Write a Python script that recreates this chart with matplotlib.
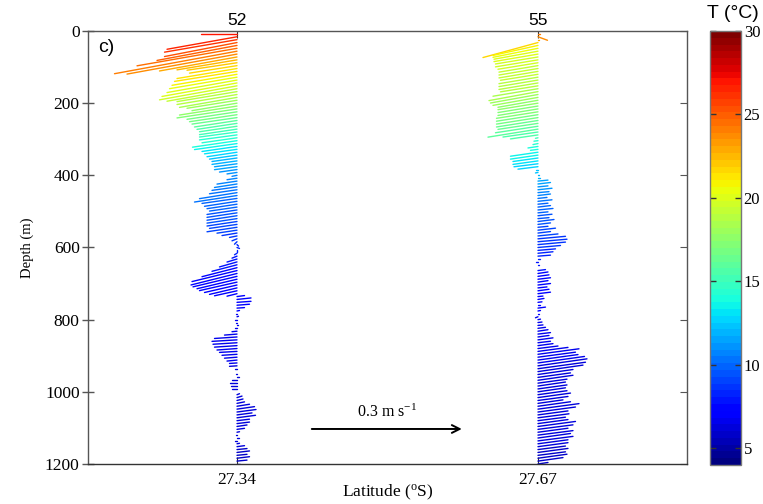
import numpy as np
import matplotlib.pyplot as plt
from matplotlib.collections import LineCollection
from matplotlib.colors import Normalize

# ADCP bins: 8 m, from 8 to 1200 m (six rows of 25 bins each below)
depth = np.arange(8, 1208, 8)

# station latitudes (deg S) and station numbers
lat_st = [27.34, 27.67]
st_names = ['52', '55']

# station 52: east (u) and north (v) velocity in cm/s, temperature in deg C
u52 = [-7.3, -14, -14.5, -14.5, -16, -20, -24.5, -22, -15.5, -12, -10, -9.5, -12, -12.5, -13, -13.5, -14, -15, -15.5, -14, -12, -12, -11.5, -10, -9,
       -11.5, -12, -10, -9.5, -9, -8.5, -8, -7.5, -7.5, -7.5, -7.5, -7, -8.9, -8.5, -7, -6.5, -6, -5.5, -5, -5, -4.5, -4.5, -3.5, -2, -1,
       -2, -4, -4.5, -5, -5.5, -7.5, -8.5, -7, -6.5, -6, -5.5, -6, -6, -6, -6, -6, -5.5, -6, -4, -3, -1.5, -1, -0.5, 0.3, 0.5,
       0, -0.5, -1, -2, -3.5, -5, -7, -9, -9.2, -8.8, -8, -7.5, -6.5, -5.5, -4.5, -2, 1.5, 2.8, 2.8, 2.5, 1.5, 0.5, -0.3, 0.3, -0.5,
       -0.3, 0.2, -0.5, -1, -2.5, -4.5, -5, -4.8, -4.5, -4, -3.5, -3, -2.5, -2, -1.5, -1.5, -0.5, 0, -0.3, 0.3, -1, -1.5, -1.2, -1, 0,
       0.5, 1, 1.2, 1.5, 2.5, 3.5, 3.8, 3, 3.7, 2.5, 2.5, 2, 1.5, 0.5, -0.3, 0.3, -0.5, 0.5, 1.5, 2, 2.5, 2, 2.5, 2, 0.5]
v52 = [0, -2.5, -2.5, -2.8, -3, -3.5, -4.5, -4, -2.8, -2, -1.5, -1.5, -2, -2, -2.2, -2.3, -2.5, -2.7, -2.8, -2.5, -2, -2, -2, -1.6, -1.5,
       -1.8, -1.8, -1.5, -1.4, -1.3, -1.3, -1.2, -1.1, -1.1, -1.0, -1.0, -1.0, -1.3, -1.2, -1.0, -0.9, -0.9, -0.8, -0.7, -0.7, -0.6, -0.6, -0.5, -0.3, -0.2,
       -0.3, -0.6, -0.7, -0.7, -0.8, -1.2, -1.3, -1.0, -1.0, -0.9, -0.8, -0.9, -0.9, -0.9, -0.9, -0.9, -0.8, -0.9, -0.6, -0.5, -0.3, -0.4, -0.5, -0.3, -0.2,
       -0.3, -0.3, -0.4, -0.6, -1.0, -1.3, -1.8, -2.2, -2.3, -2.1, -1.9, -1.7, -1.5, -1.3, -1.0, -0.5, 0.2, 0.3, 0.2, 0.2, 0.1, 0.1, 0, 0.1, 0,
       0, 0, 0, -0.1, -0.2, -0.3, -0.3, -0.3, -0.3, -0.3, -0.2, -0.2, -0.2, -0.2, -0.1, -0.1, 0, 0, 0, 0, 0, 0, 0, 0, 0,
       0.2, 0.3, 0.3, 0.3, 0.4, 0.5, 0.5, 0.4, 0.5, 0.3, 0.3, 0.3, 0.2, 0.1, 0, 0, 0, 0.1, 0.2, 0.2, 0.3, 0.2, 0.3, 0.2, 0]
t52 = [27, 26.5, 26, 25.5, 25, 24.5, 24, 23.5, 23, 22.5, 22, 21.7, 21.4, 21.1, 20.8, 20.5, 20.2, 19.9, 19.6, 19.3, 19, 18.7, 18.4, 18.1, 17.8,
       17.5, 17.2, 16.9, 16.6, 16.3, 16, 15.7, 15.4, 15.1, 14.8, 14.5, 14.2, 13.9, 13.6, 13.3, 13.0, 12.7, 12.4, 12.1, 11.8, 11.6, 11.4, 11.2, 11.0, 10.8,
       10.7, 10.6, 10.5, 10.4, 10.3, 10.2, 10.1, 10.0, 9.9, 9.8, 9.7, 9.6, 9.5, 9.4, 9.3, 9.2, 9.1, 9.0, 8.9, 8.8, 8.7, 8.6, 8.5, 8.4, 8.3,
       8.2, 8.1, 8.0, 7.9, 7.8, 7.7, 7.6, 7.5, 7.4, 7.4, 7.3, 7.3, 7.2, 7.2, 7.1, 7.1, 7.0, 7.0, 7.0, 6.9, 6.9, 6.9, 6.8, 6.8, 6.8,
       6.8, 6.8, 6.7, 6.7, 6.7, 6.7, 6.6, 6.6, 6.6, 6.6, 6.5, 6.5, 6.5, 6.5, 6.5, 6.4, 6.4, 6.4, 6.4, 6.4, 6.3, 6.3, 6.3, 6.3, 6.3,
       6.3, 6.3, 6.3, 6.2, 6.2, 6.2, 6.2, 6.2, 6.2, 6.2, 6.2, 6.1, 6.1, 6.1, 6.1, 6.1, 6.1, 6.1, 6.1, 6.0, 6.0, 6.0, 6.0, 6.0, 6.0]

# station 55
u55 = [0.5, 1.9, 0.3, -11, -9, -9, -8.8, -8.8, -8.5, -8.5, -8, -7.8, -7.8, -7.8, -7.5, -7.8, -7.8, -7.8, -7.5, -9, -9.8, -9.5, -9, -8, -8,
       -8, -8, -8.3, -8.3, -8.3, -8.3, -8, -8.5, -10, -7, -5.5, -0.5, -0.8, -1, -2, -1.5, -5.5, -5.5, -5, -5, -4.8, -4, -0.3, -0.5, 0.3,
       0.5, 2, 2.5, 2, 2.8, 2.2, 2.5, 1.8, 2.8, 2, 2.5, 3, 2, 2.8, 2.2, 3.2, 2.5, 2, 3.5, 2.5, 4, 5.5, 5.8, 5.5, 4.5,
       3.5, 3, 2.5, 0.5, -0.3, 0.3, 0, 1.5, 2, 2.2, 2.5, 2, 2.5, 1.8, 2.2, 2.5, 1, 1.2, 0.8, 0.5, 1.5, 0.5, 0.3, -0.5, 0.5,
       0.8, 1, 1.5, 2, 2.5, 2.2, 3, 2.5, 3, 4, 6, 8.2, 7.5, 8, 9.3, 9.8, 9.5, 9, 7, 6.5, 7, 5.8, 5.5, 5.8, 5.5,
       5.8, 6.5, 6, 5, 6.5, 8.2, 7.5, 6, 6.2, 5.5, 6, 7.5, 7, 6, 7, 6.5, 7, 6, 6, 5.5, 6, 5.5, 5.8, 5, 2]
v55 = [0, -0.7, 0, -3, -2, -1.8, -1.6, -1.5, -1.4, -1.4, -1.3, -1.3, -1.3, -1.3, -1.2, -1.3, -1.3, -1.3, -1.2, -1.5, -1.8, -1.7, -1.6, -1.4, -1.3,
       -1.3, -1.3, -1.3, -1.3, -1.3, -1.3, -1.2, -1.3, -1.6, -1.0, -0.8, -0.1, -0.1, -0.2, -0.3, -0.2, -0.8, -0.8, -0.7, -0.7, -0.6, -0.5, 0, -0.1, 0,
       0, 0.2, 0.3, 0.2, 0.3, 0.2, 0.3, 0.2, 0.3, 0.2, 0.3, 0.3, 0.2, 0.3, 0.2, 0.4, 0.3, 0.2, 0.4, 0.3, 0.4, 0.5, 0.5, 0.5, 0.4,
       0.3, 0.3, 0.2, 0, 0, 0, 0, 0.2, 0.3, 0.3, 0.3, 0.3, 0.3, 0.2, 0.3, 0.3, 0.1, 0.2, 0.1, 0, 0.2, 0.1, 0, -0.2, 0.1,
       0.1, 0.1, 0.2, 0.3, 0.3, 0.3, 0.4, 0.3, 0.4, 0.5, 0.8, 1.1, 1.0, 1.1, 1.3, 1.4, 1.3, 1.3, 1.0, 0.9, 1.0, 0.8, 0.8, 0.8, 0.8,
       0.8, 0.9, 0.8, 0.7, 0.9, 1.1, 1.0, 0.8, 0.8, 0.7, 0.8, 1.0, 0.9, 0.8, 0.9, 0.9, 0.9, 0.8, 0.8, 0.7, 0.8, 0.7, 0.8, 0.7, 0.3]
t55 = [24, 23.5, 23, 21.5, 20.8, 20.5, 20.2, 20, 19.8, 19.6, 19.5, 19.4, 19.3, 19.2, 19.1, 19, 18.9, 18.8, 18.7, 18.6, 18.4, 18.2, 18.0, 17.8, 17.6,
       17.4, 17.2, 17.0, 16.8, 16.6, 16.4, 16.2, 16.0, 15.8, 15.6, 15.4, 15.0, 14.5, 14.2, 14.0, 13.8, 13.6, 13.4, 13.2, 13.0, 12.8, 12.6, 12.4, 12.2, 12.0,
       11.8, 11.6, 11.4, 11.2, 11.0, 10.8, 10.6, 10.4, 10.2, 10.0, 9.9, 9.8, 9.7, 9.6, 9.5, 9.4, 9.3, 9.2, 9.1, 9.0, 8.9, 8.8, 8.7, 8.6, 8.5,
       8.4, 8.3, 8.2, 8.1, 8.0, 7.9, 7.8, 7.7, 7.6, 7.5, 7.4, 7.3, 7.3, 7.2, 7.2, 7.1, 7.1, 7.0, 7.0, 7.0, 6.9, 6.9, 6.9, 6.8, 6.8,
       6.8, 6.8, 6.7, 6.7, 6.7, 6.7, 6.6, 6.6, 6.6, 6.6, 6.5, 6.5, 6.5, 6.5, 6.5, 6.4, 6.4, 6.4, 6.4, 6.4, 6.3, 6.3, 6.3, 6.3, 6.3,
       6.3, 6.3, 6.3, 6.2, 6.2, 6.2, 6.2, 6.2, 6.2, 6.2, 6.2, 6.1, 6.1, 6.1, 6.1, 6.1, 6.1, 6.1, 6.1, 6.0, 6.0, 6.0, 6.0, 6.0, 6.0]

ref_speed = 0.3          # m/s, scale arrow
xlim = (27.1766, 27.8334)
ylim = (1200, 0)
clim = (4, 30)

plt.rcParams['mathtext.fontset'] = 'custom'
plt.rcParams['mathtext.rm'] = 'Liberation Serif'
plt.rcParams['mathtext.it'] = 'Liberation Serif:italic'
serif = 'Liberation Serif'
sans = 'Liberation Sans'

fig = plt.figure(figsize=(7.63, 5.04), dpi=100)
ax = fig.add_axes([0.1153, 0.0794, 0.7851, 0.8591])
cax = fig.add_axes([0.9305, 0.0774, 0.0406, 0.8611])
ax.set_xlim(*xlim)
ax.set_ylim(*ylim)

# stick scaling: same pixel length per m/s in both directions
W = fig.get_figwidth() * fig.dpi * 0.7851
H = fig.get_figheight() * fig.dpi * 0.8591
px_deg = W / (xlim[1] - xlim[0])
px_m = H / (ylim[0] - ylim[1])
kx = 500.0 / px_deg            # 500 px per m/s
kz = 500.0 / px_m

cmap = plt.get_cmap('jet', 64)
norm = Normalize(*clim)

for x0, u, v, t in [(lat_st[0], u52, v52, t52), (lat_st[1], u55, v55, t55)]:
    u = np.array(u) / 100.0
    v = np.array(v) / 100.0
    segs = [[(x0, z), (x0 + uu * kx, z - vv * kz)] for z, uu, vv in zip(depth, u, v)]
    lc = LineCollection(segs, cmap=cmap, norm=norm, linewidths=1.0, capstyle='round')
    lc.set_array(np.array(t))
    ax.add_collection(lc)

# scale arrow
ax0 = 27.422
zarr = 1103
ax.annotate('', xy=(ax0 + ref_speed * kx, zarr), xytext=(ax0, zarr),
            arrowprops=dict(arrowstyle='->', color='black', lw=1.4, mutation_scale=14,
                            shrinkA=0, shrinkB=0))
ax.text(ax0 + ref_speed * kx / 2, 1056, r'0.3 m s$^{-1}$', ha='center', va='center',
        fontsize=11.5, family=serif)

ax.text(0.017, 0.963, 'c)', transform=ax.transAxes, ha='left', va='center',
        fontsize=14, family=sans)

# axes styling
for s in ax.spines.values():
    s.set_color('#555555')
    s.set_linewidth(1.0)
ax.spines['bottom'].set_color('#333333')

ax.set_yticks(range(0, 1201, 200))
ax.set_xticks(lat_st)
ax.set_xticklabels(['%.2f' % l for l in lat_st])
ax.tick_params(axis='y', which='both', direction='inout', length=8, width=1,
               color='#555555', left=True, right=False, labelsize=12.5, pad=2)
ax.tick_params(axis='x', direction='in', length=5, color='#333333', labelsize=12.5, pad=6)
for lab in ax.get_xticklabels() + ax.get_yticklabels():
    lab.set_family(serif)

# right side inward ticks
axr = ax.secondary_yaxis('right')
axr.set_yticks(range(0, 1201, 200))
axr.tick_params(direction='in', length=5, color='#555555', labelright=False)
axr.spines['right'].set_visible(False)

# station numbers along the top
axt = ax.secondary_xaxis('top')
axt.set_xticks(lat_st)
axt.set_xticklabels(st_names)
axt.tick_params(direction='in', length=5, color='#333333', labelsize=12.5, pad=2)
axt.spines['top'].set_visible(False)
for lab in axt.get_xticklabels():
    lab.set_family(sans)

ax.set_ylabel('Depth (m)', fontsize=10.5, family=serif, labelpad=8)
ax.set_xlabel(r'Latitude ($^{\rm o}$S)', fontsize=12.5, family=serif, labelpad=-4)

# colorbar
sm = plt.cm.ScalarMappable(norm=norm, cmap=cmap)
cb = fig.colorbar(sm, cax=cax, ticks=[5, 10, 15, 20, 25, 30])
cb.outline.set_edgecolor('#777777')
cb.outline.set_linewidth(1.0)
cax.tick_params(direction='in', length=4, width=1, color='#333333', left=True, right=True,
                labelsize=12, pad=2)
for lab in cax.get_yticklabels():
    lab.set_family(serif)
fig.text(0.961, 0.974, 'T (°C)', ha='center', va='center', fontsize=14, family=sans)

fig.savefig('out.png', dpi=100)
